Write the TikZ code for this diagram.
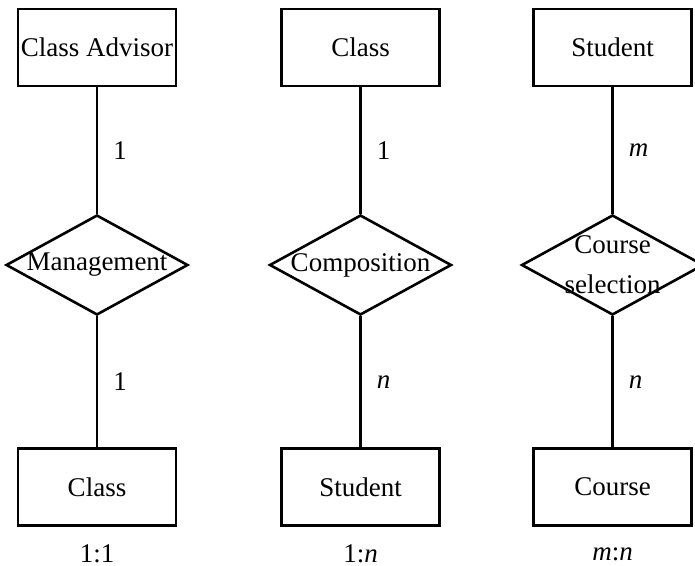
\documentclass[tikz,border=0pt]{standalone}
\usepackage{fontspec}
\setmainfont{Liberation Serif}
\usetikzlibrary{shapes.geometric}
\usetikzlibrary{positioning}

\tikzset{
    entity/.style={draw, line width=1.3pt, minimum width=79pt, minimum height=38.5pt, inner sep=0pt},
    relation/.style={draw, diamond, line width=1.3pt, minimum width=91pt, minimum height=50pt, inner sep=0pt},
    card/.style={right=7.5pt, inner sep=0pt},
}

\begin{document}
\begin{tikzpicture}[x=0.5pt,y=-0.5pt,font=\fontsize{13.5}{20}\selectfont]
    \useasboundingbox (0,0) rectangle (695,566);

    % one to one
    \node[entity] at (97,47.5) (advisor) {Class Advisor};
    \node[relation, label=center:{Management}] at (97,265) (manage) {};
    \node[entity] at (97,487) (class1) {Class};
    \draw[line width=1.3pt] (advisor) -- node[card]{1} (manage);
    \draw[line width=1.3pt] (manage) -- node[card]{1} (class1);
    \node at (97,554) (ratio1) {1:1};

    % one to many
    \node[entity] at (360.5,47.5) (class2) {Class};
    \node[relation, label=center:{Composition}] at (360.5,265) (compose) {};
    \node[entity] at (360.5,487) (student1) {Student};
    \draw[line width=1.3pt] (class2) -- node[card]{1} (compose);
    \draw[line width=1.3pt] (compose) -- node[card]{\textit{n}} (student1);
    \node at (360.5,554) (ratio2) {1:\textit{n}};

    % many to many
    \node[entity] at (612.5,47.5) (student2) {Student};
    \node[relation, label={[align=center]center:Course\\selection}] at (612.5,265) (select) {};
    \node[entity] at (612.5,487) (course) {Course};
    \draw[line width=1.3pt] (student2) -- node[card]{\textit{m}} (select);
    \draw[line width=1.3pt] (select) -- node[card]{\textit{n}} (course);
    \node at (612.5,554) (ratio3) {\textit{m}:\textit{n}};
\end{tikzpicture}
\end{document}
